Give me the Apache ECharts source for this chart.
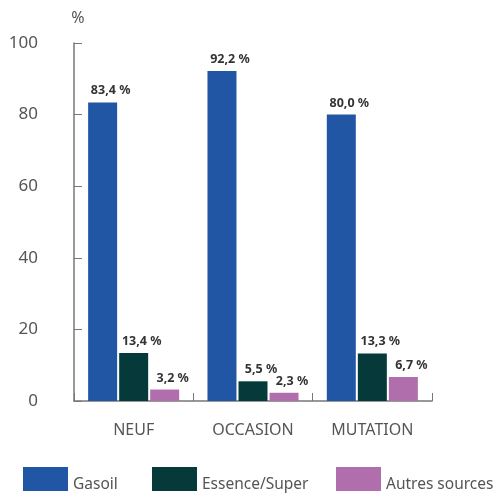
<!DOCTYPE html>
<html><head><meta charset="utf-8">
<script src="https://cdn.jsdelivr.net/npm/echarts@6/dist/echarts.min.js"></script>
<style>html,body{margin:0;padding:0;background:#fff}#c{width:496px;height:495px}</style>
</head><body><div id="c"></div>
<script>
const categories = ['NEUF', 'OCCASION', 'MUTATION'];
const gasoil = [83.4, 92.2, 80.0];
const essence = [13.4, 5.5, 13.3];
const autres = [3.2, 2.3, 6.7];
const seriesNames = ['Gasoil', 'Essence/Super', 'Autres sources'];
const yTicks = [0, 20, 40, 60, 80, 100];

const font = 'Noto Sans';
const fmt = p => p.value.toFixed(1).replace('.', ',') + ' %';
const lbl = {show: true, position: 'top', formatter: fmt, fontFamily: font, fontWeight: 'bold', fontSize: 12.5, color: '#333', distance: 5, offset: [8, 0]};
const legendLefts = [23, 152, 336];
const legendBase = {
  top: 467, itemWidth: 45, itemHeight: 24, itemGap: 9, icon: 'rect', padding: 0,
  formatter: '{a|{name}}',
  textStyle: {fontFamily: font, fontSize: 15.5, color: '#555',
    rich: {a: {fontFamily: font, fontSize: 15.5, color: '#555', padding: [11, 0, 0, 0]}}}
};
const chart = echarts.init(document.getElementById('c'));
chart.setOption({
  animation: false,
  grid: {left: 74, right: 64, top: 43, bottom: 94},
  legend: seriesNames.map((n, i) => Object.assign({}, legendBase, {left: legendLefts[i], data: [n]})),
  xAxis: {
    type: 'category', data: categories,
    axisLine: {lineStyle: {color: '#777', width: 1.5}},
    axisTick: {show: true, inside: true, length: 8, lineStyle: {color: '#777'}},
    axisLabel: {fontFamily: font, fontSize: 16, color: '#555', margin: 21}
  },
  yAxis: {
    type: 'value', min: yTicks[0], max: yTicks[yTicks.length - 1], interval: 20,
    name: '%', nameGap: 17, nameTextStyle: {fontFamily: font, fontSize: 16, color: '#555', align: 'center', padding: [0, 0, 0, 8]},
    axisLine: {show: true, lineStyle: {color: '#777', width: 1.5}},
    axisTick: {show: true, inside: true, length: 8, lineStyle: {color: '#777'}},
    splitLine: {show: false},
    axisLabel: {fontFamily: font, fontSize: 17, color: '#555', margin: 36}
  },
  series: [
    {name: seriesNames[0], type: 'bar', data: gasoil, itemStyle: {color: '#2156a5'}, barWidth: 29, barGap: '7%', label: lbl},
    {name: seriesNames[1], type: 'bar', data: essence, itemStyle: {color: '#063a3a'}, barWidth: 29, barGap: '7%', label: lbl},
    {name: seriesNames[2], type: 'bar', data: autres, itemStyle: {color: '#b06fac'}, barWidth: 29, barGap: '7%', label: lbl}
  ]
});
</script></body></html>
